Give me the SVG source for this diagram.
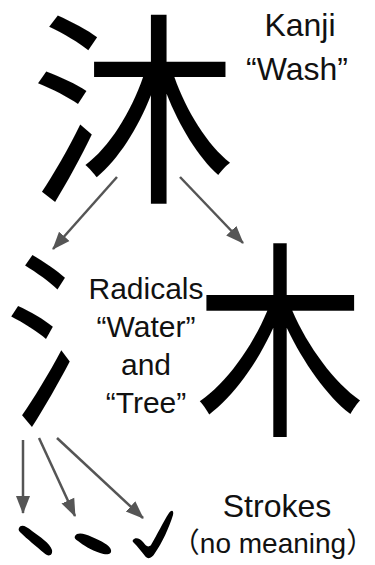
<svg xmlns="http://www.w3.org/2000/svg" width="375" height="565" viewBox="0 0 375 565">
<style>
.kanji{font-family:"Noto Sans CJK JP","Noto Sans CJK SC",sans-serif;fill:#000}
.lbl{font-family:"Liberation Sans","Noto Sans CJK JP",sans-serif;fill:#111;text-anchor:middle}
.conn{stroke:#555;stroke-width:2.5;fill:none}
.stroke{fill:#000}
</style>
<defs>
<marker id="ah" markerUnits="userSpaceOnUse" markerWidth="20" markerHeight="16" refX="17" refY="8" orient="auto">
<path d="M0,1 L18,8 L0,15 Z" fill="#555"/>
</marker>
</defs>
<rect width="375" height="565" fill="#fff"/>
<g id="kanji-wash">
<text class="kanji" x="133" y="187" font-size="206" text-anchor="middle">沐</text>
</g>
<g id="label-kanji">
<text class="lbl" x="300" y="36" font-size="32">Kanji</text>
<text class="lbl" x="297" y="80" font-size="32">“Wash”</text>
</g>
<g id="radical-water">
<text class="kanji" transform="translate(5,0) scale(0.84,1)" x="0" y="410" font-size="190">氵</text>
</g>
<g id="radical-tree">
<text class="kanji" transform="translate(280,0) scale(0.81,1)" x="0" y="420" font-size="210" text-anchor="middle">木</text>
</g>
<g id="label-radicals">
<text class="lbl" x="146" y="299" font-size="30">Radicals</text>
<text class="lbl" x="146" y="337" font-size="30">“Water”</text>
<text class="lbl" x="146" y="375" font-size="30">and</text>
<text class="lbl" x="146" y="413" font-size="30">“Tree”</text>
</g>
<g id="strokes">
<path class="stroke" d="M19,528 C21,524 26,526 32,531 C40,537 50,543 52,550 C53,556 48,557 44,553 C36,546 27,539 21,533 C19,531 18,530 19,528 Z"/>
<path class="stroke" d="M75,536 C77,532 84,533 92,537 C101,541 110,545 111,550 C112,555 106,555 100,553 C91,550 83,545 78,541 C75,539 74,538 75,536 Z"/>
<path class="stroke" d="M133,540 C135,537 140,538 143,542 C146,546 148,548 151,545 C157,535 163,522 169,513 C172,509 174,511 173,515 C169,528 162,543 155,553 C152,558 148,560 145,556 C141,551 137,546 134,543 C133,542 132,541 133,540 Z"/>
</g>
<g id="label-strokes">
<text class="lbl" x="277" y="517" font-size="32">Strokes</text>
<text class="lbl" x="273" y="553" font-size="28">（no meaning）</text>
</g>
<g id="connectors">
<line class="conn" x1="117" y1="177" x2="53" y2="249" marker-end="url(#ah)"/>
<line class="conn" x1="180" y1="177" x2="243" y2="243" marker-end="url(#ah)"/>
<line class="conn" x1="23" y1="440" x2="23" y2="513" marker-end="url(#ah)"/>
<line class="conn" x1="39" y1="438" x2="75" y2="516" marker-end="url(#ah)"/>
<line class="conn" x1="57" y1="438" x2="143" y2="518" marker-end="url(#ah)"/>
</g>
</svg>
